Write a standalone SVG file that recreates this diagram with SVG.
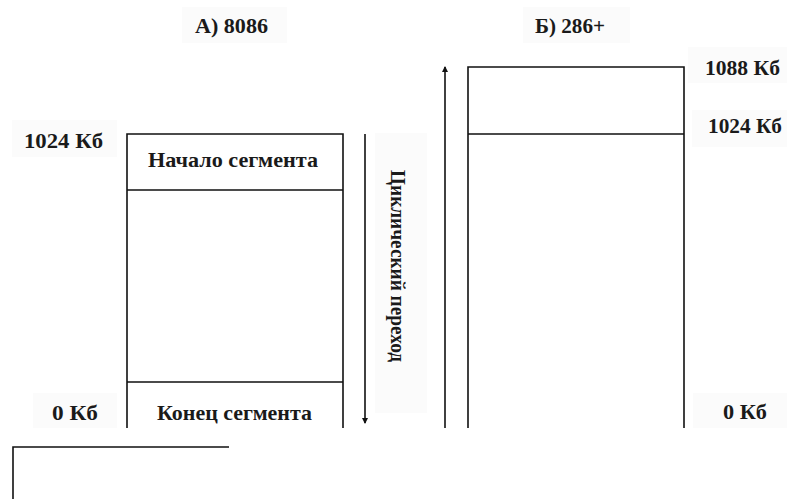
<svg xmlns="http://www.w3.org/2000/svg" width="787" height="499" viewBox="0 0 787 499">
<style>
.bg{fill:#fbfbfb;stroke:none}
.ln{stroke:#111;stroke-width:1.6;fill:none}
.t{font-family:"Liberation Serif","Times New Roman",serif;font-weight:bold;font-size:21px;fill:#1a1a1a}
</style>
<defs>
<marker id="ah" markerWidth="6" markerHeight="8" refX="5" refY="4" orient="auto" markerUnits="userSpaceOnUse">
<path d="M0,1 L6,4 L0,7 Z" fill="#111"/>
</marker>
</defs>
<rect width="787" height="499" fill="#fff"/>

<g id="title-a">
<rect class="bg" x="182" y="7" width="105" height="36"/>
<text class="t" x="195" y="33" textLength="73" lengthAdjust="spacingAndGlyphs">А) 8086</text>
</g>
<g id="title-b">
<rect class="bg" x="523" y="7" width="107" height="36"/>
<text class="t" x="535" y="33" textLength="70" lengthAdjust="spacingAndGlyphs">Б) 286+</text>
</g>

<g id="label-a-1024">
<rect class="bg" x="12" y="120" width="105" height="37"/>
<text class="t" x="24" y="148" textLength="79" lengthAdjust="spacingAndGlyphs">1024 Кб</text>
</g>
<g id="label-a-0">
<rect class="bg" x="33" y="393" width="84" height="35"/>
<text class="t" x="52" y="420" textLength="46" lengthAdjust="spacingAndGlyphs">0 Кб</text>
</g>

<g id="memory-a">
<path class="ln" d="M127,428 V134 H343 V428 M127,190 H343 M127,382 H343"/>
<text class="t" x="148" y="167" textLength="170" lengthAdjust="spacingAndGlyphs">Начало сегмента</text>
<text class="t" x="157" y="420" textLength="155" lengthAdjust="spacingAndGlyphs">Конец сегмента</text>
</g>

<g id="label-cycle">
<rect class="bg" x="375" y="133" width="52" height="280"/>
<text class="t" transform="translate(391,170) rotate(90)" x="0" y="0" textLength="192" lengthAdjust="spacingAndGlyphs">Циклический переход</text>
</g>

<g id="memory-b">
<path class="ln" d="M468,428 V67 H684 V428 M468,134 H684"/>
</g>

<g id="label-b-1088">
<rect class="bg" x="688" y="47" width="99" height="36"/>
<text class="t" x="705" y="75" textLength="75" lengthAdjust="spacingAndGlyphs">1088 Кб</text>
</g>
<g id="label-b-1024">
<rect class="bg" x="692" y="110" width="95" height="37"/>
<text class="t" x="708" y="133" textLength="74" lengthAdjust="spacingAndGlyphs">1024 Кб</text>
</g>
<g id="label-b-0">
<rect class="bg" x="693" y="393" width="94" height="35"/>
<text class="t" x="723" y="419" textLength="44" lengthAdjust="spacingAndGlyphs">0 Кб</text>
</g>

<g id="connectors">
<line class="ln" x1="365" y1="134" x2="365" y2="423" marker-end="url(#ah)"/>
<line class="ln" x1="445" y1="428" x2="445" y2="67" marker-end="url(#ah)"/>
</g>

<g id="frame-bottom">
<path class="ln" stroke-width="2" d="M13,499 V447 H229"/>
</g>
</svg>
